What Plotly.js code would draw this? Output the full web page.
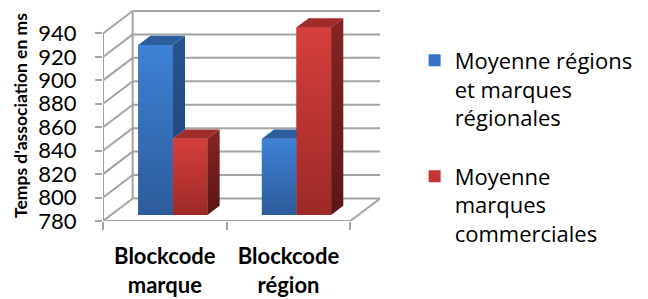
<!DOCTYPE html>
<html><head><meta charset="utf-8">
<script src="https://cdn.plot.ly/plotly-3.0.1.min.js"></script>
<style>html,body{margin:0;padding:0;background:#fff}#chart{width:648px;height:299px}</style>
</head><body><div id="chart"></div>
<script>
// ---- data ----
const categories = ['Blockcode<br>marque', 'Blockcode<br>région'];
const seriesNames = ['Moyenne régions<br>et marques<br>régionales', 'Moyenne<br>marques<br>commerciales'];
const blueValues = [925, 845];
const redValues = [845, 940];
const yTickValues = [780, 800, 820, 840, 860, 880, 900, 920, 940];
const yTitle = "Temps d'association en ms";

// ---- pseudo-3D projection (style) ----
const Y0 = yTickValues[0], YTOP = yTickValues[yTickValues.length - 1];
const YMAX = 960;
const DX = 0.24, DY = 19.2;   // oblique offset of full depth, in axis units
const D0 = 0.27, D1 = 0.68;   // bar front / back depth
const W = 0.28;               // bar width
const XMIN = -0.5, XMAX = categories.length - 0.5;
function P(x, z, d) { return [x + d * DX, z + d * DY]; }

const GRID = '#a3a3a3';
const gx = [], gy = [];
function seg(a, b) { gx.push(a[0], b[0], null); gy.push(a[1], b[1], null); }
yTickValues.forEach(t => { seg(P(XMIN, t, 1), P(XMAX, t, 1)); seg(P(XMIN, t, 0), P(XMIN, t, 1)); });
seg(P(XMIN, Y0, 0), P(XMIN, YTOP, 0));
seg(P(XMIN, Y0, 1), P(XMIN, YTOP, 1));
seg(P(XMIN, Y0, 0), P(XMAX, Y0, 0));
seg(P(XMAX, Y0, 0), P(XMAX, Y0, 1));

const traces = [{
  type: 'scatter', mode: 'lines', x: gx, y: gy, connectgaps: false,
  line: { color: GRID, width: 2 }, hoverinfo: 'skip', showlegend: false,
  xaxis: 'x', yaxis: 'y'
}];

const series = [
  { name: seriesNames[0], values: blueValues, color: '#3572c4',
    grad: ['#2c5b9a', '#3e82d6'], side: ['#234a80', '#28548f'], top: '#2c5e9e' },
  { name: seriesNames[1], values: redValues, color: '#c33633',
    grad: ['#9c2927', '#d53f3c'], side: ['#5a1716', '#862423'], top: '#9f2c2a' }
];

series.forEach((s, k) => {
  traces.push({
    type: 'bar', name: s.name, x: categories.map((c, i) => i),
    y: s.values.map(v => v - Y0), base: Y0 + D0 * DY,
    offset: -W + k * W + D0 * DX, width: W,
    marker: { color: s.color, line: { width: 0 } },
    xaxis: 'x2', yaxis: 'y2', legendgroup: 'g' + k, hoverinfo: 'skip'
  });
});

function poly(pts, extra) {
  const t = Object.assign({
    type: 'scatter', mode: 'lines', fill: 'toself',
    x: pts.map(p => p[0]).concat([pts[0][0]]),
    y: pts.map(p => p[1]).concat([pts[0][1]]),
    line: { width: 0, color: 'rgba(0,0,0,0)' },
    hoverinfo: 'skip', showlegend: false, xaxis: 'x2', yaxis: 'y2'
  }, extra);
  traces.push(t);
}

categories.forEach((c, i) => {
  series.forEach((s, k) => {
    const v = s.values[i];
    const xl = i - W + k * W, xr = xl + W;
    // front face
    poly([P(xl, Y0, D0), P(xr, Y0, D0), P(xr, v, D0), P(xl, v, D0)],
      { fillcolor: s.color, fillgradient: { type: 'vertical', colorscale: [[0, s.grad[0]], [1, s.grad[1]]] } });
    // right side face (part hidden by the neighbouring bar removed)
    let zlo = Y0;
    if (k < series.length - 1) zlo = Math.max(Y0, series[k + 1].values[i]);
    if (zlo < v) {
      poly([P(xr, zlo, D0), P(xr, v, D0), P(xr, v, D1), P(xr, zlo, D1)],
        { fillcolor: s.side[1], fillgradient: { type: 'vertical', colorscale: [[0, s.side[0]], [1, s.side[1]]] } });
    }
    // top face
    poly([P(xl, v, D0), P(xr, v, D0), P(xr, v, D1), P(xl, v, D1)], { fillcolor: s.top });
  });
});

const layout = {
  width: 648, height: 299,
  margin: { l: 103, r: 265, t: 10, b: 78, pad: 0 },
  paper_bgcolor: '#ffffff', plot_bgcolor: 'rgba(0,0,0,0)',
  font: { family: 'Lato, "Open Sans", sans-serif', color: '#000000' },
  showlegend: true,
  barmode: 'overlay',
  xaxis: {
    range: [XMIN, XMAX + DX], tickmode: 'array',
    tickvals: categories.map((c, i) => i - 0.5).concat([XMAX]),
    ticks: 'outside', ticklen: 8, tickwidth: 2, tickcolor: GRID,
    showticklabels: false, showgrid: false, zeroline: false, showline: false, fixedrange: true
  },
  yaxis: {
    range: [Y0, YMAX], tickmode: 'array', tickvals: yTickValues,
    ticks: 'outside', ticklen: 7, tickwidth: 2, tickcolor: GRID,
    showgrid: false, zeroline: false, showline: false,
    tickfont: { size: 22 }, ticklabelstandoff: 14,
    title: { text: yTitle, font: { size: 17.5, weight: 'bold' }, standoff: 6 }
  },
  xaxis2: {
    overlaying: 'x', range: [XMIN, XMAX + DX], tickmode: 'array',
    tickvals: categories.map((c, i) => i), ticktext: categories,
    ticks: '', showgrid: false, zeroline: false, showline: false,
    tickfont: { size: 22, weight: 'bold' }, ticklabelstandoff: 20
  },
  yaxis2: {
    overlaying: 'y', range: [Y0, YMAX], showticklabels: false,
    showgrid: false, zeroline: false, showline: false, ticks: ''
  },
  legend: {
    x: 1.125, y: 0.86, xanchor: 'left', yanchor: 'top', valign: 'top',
    font: { size: 22, family: '"Open Sans", sans-serif' },
    traceorder: 'grouped', tracegroupgap: 27,
    bgcolor: 'rgba(0,0,0,0)'
  }
};

Plotly.newPlot('chart', traces, layout, { staticPlot: true, displayModeBar: false });
</script>
</body></html>
